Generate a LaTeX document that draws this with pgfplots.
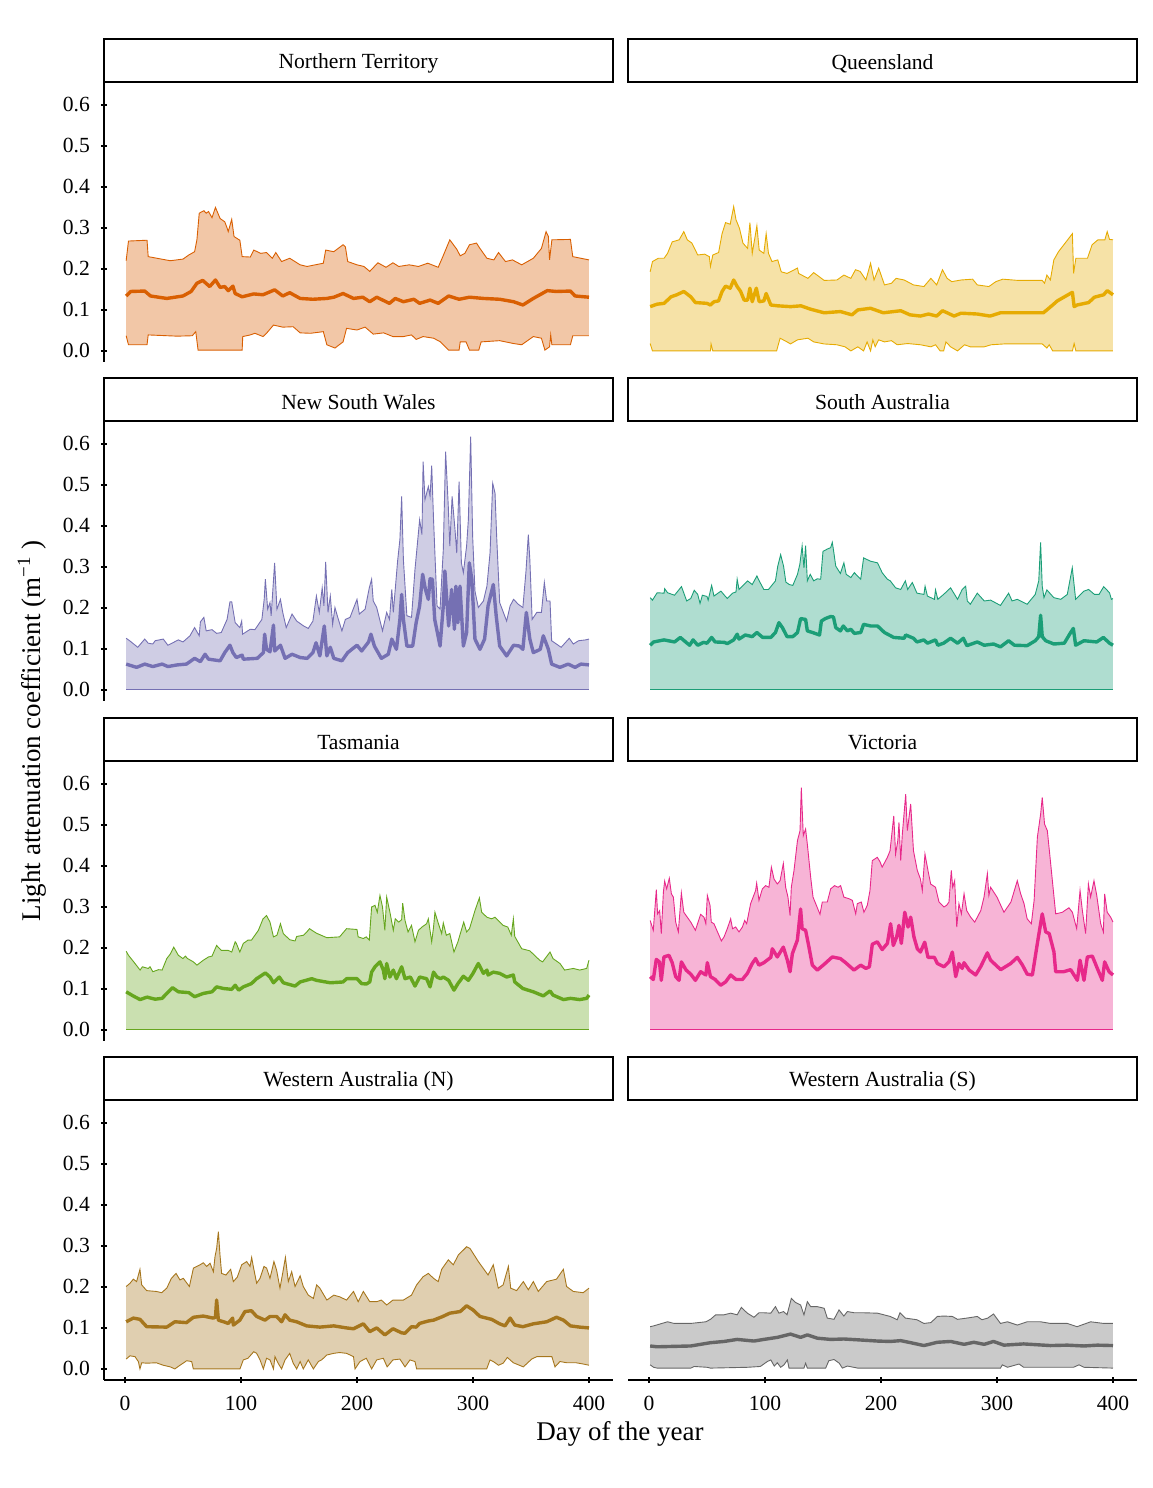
\documentclass[border=0pt]{standalone}
\usepackage{pgfplots}
\pgfplotsset{compat=1.18}
\usepgfplotslibrary{fillbetween}
\usepackage{fontspec}
\setmainfont{Liberation Serif}
\definecolor{cNT}{HTML}{D95F02}
\definecolor{cQL}{HTML}{E6AB02}
\definecolor{cNS}{HTML}{7570B3}
\definecolor{cSA}{HTML}{1B9E77}
\definecolor{cTA}{HTML}{66A61E}
\definecolor{cVI}{HTML}{E7298A}
\definecolor{cWN}{HTML}{A6761D}
\definecolor{cWS}{HTML}{666666}
\newcommand{\ribbon}[5]{%
 \addplot[name path=U#1, draw=#2, line width=0.45pt] coordinates {#3};
 \addplot[name path=L#1, draw=#2, line width=0.45pt] coordinates {#4};
 \addplot[fill=#2, fill opacity=0.35, draw=none] fill between[of=U#1 and L#1];
 \addplot[#2, line width=1.7pt, line join=round] coordinates {#5};
}
\newcommand{\strip}[1]{%
 \draw[line width=1.2pt] (rel axis cs:0,1) rectangle ([yshift=21.5pt]rel axis cs:1,1);
 \node[font=\fontsize{10.8}{13}\selectfont] at ([yshift=9.3pt]rel axis cs:0.5,1) {#1};
}
\pgfplotsset{
 panel/.style={scale only axis, width=254.5pt, height=140pt,
  xmin=-18.1, xmax=420.7, ymin=-0.027, ymax=0.656, clip=false,
  tick style={line width=1.2pt, black}, tick align=outside, major tick length=3pt,
  ytick={0,0.1,0.2,0.3,0.4,0.5,0.6}, xtick={0,100,200,300,400},
  /pgf/number format/assume math mode=true,
  ticklabel style={font=\fontsize{10.8}{13}\selectfont, text=black},
  xticklabel style={yshift=-3pt},
  yticklabel style={xshift=-2pt, /pgf/number format/fixed, /pgf/number format/fixed zerofill, /pgf/number format/precision=1}},
 lefttop/.style={panel, axis x line=none, axis y line=left, xtick=\empty,
  axis line style={-, line width=1.2pt, black}},
 righttop/.style={panel, axis x line=none, axis y line=none, xtick=\empty, ytick=\empty},
 leftbot/.style={panel, axis x line=bottom, axis y line=left,
  axis line style={-, line width=1.2pt, black}},
 rightbot/.style={panel, axis x line=bottom, axis y line=none, ytick=\empty,
  axis line style={-, line width=1.2pt, black}},
}
\begin{document}
\begin{tikzpicture}
\path (0,0) rectangle (576pt,744pt);
% Row 1 left: Northern Territory
\begin{axis}[lefttop, at={(52pt,563pt)}, anchor=south west]
\ribbon{a}{cNT}{(1,0.220) (3,0.268) (19,0.270) (20,0.230) (39,0.220) (50,0.224) (55,0.234) (60,0.242) (62,0.271) (64,0.336) (68,0.342) (70,0.336) (72,0.340) (75,0.325) (78,0.350) (82,0.323) (86,0.315) (88,0.300) (89,0.291) (92,0.321) (93,0.300) (94,0.279) (99,0.270) (101,0.230) (108,0.229) (111,0.246) (117,0.238) (122,0.240) (127,0.226) (130,0.240) (135,0.218) (142,0.226) (151,0.210) (157,0.206) (171,0.214) (173,0.246) (180,0.242) (188,0.259) (190,0.254) (192,0.218) (200,0.210) (206,0.206) (211,0.194) (218,0.215) (225,0.204) (231,0.215) (236,0.206) (245,0.210) (253,0.206) (261,0.214) (270,0.204) (274,0.230) (280,0.271) (286,0.248) (289,0.232) (293,0.238) (297,0.259) (303,0.263) (306,0.250) (312,0.226) (318,0.222) (322,0.240) (328,0.218) (334,0.222) (342,0.210) (352,0.226) (359,0.250) (363,0.291) (365,0.279) (366,0.222) (368,0.271) (384,0.272) (386,0.230) (400,0.222)}
{(1,0.037) (3,0.015) (19,0.015) (20,0.039) (45,0.036) (58,0.037) (61,0.047) (63,0.002) (101,0.002) (101.5,0.035) (108,0.039) (112,0.043) (119,0.035) (122,0.043) (128,0.063) (136,0.058) (145,0.059) (151,0.044) (160,0.043) (171,0.047) (174,0.015) (181,0.007) (188,0.022) (191,0.055) (200,0.051) (207,0.058) (214,0.041) (223,0.044) (231,0.035) (240,0.035) (247,0.039) (251,0.028) (257,0.035) (266,0.031) (272,0.022) (279,0.002) (288,0.002) (289,0.022) (294,0.022) (297,0.002) (305,0.002) (307,0.022) (323,0.025) (335,0.018) (342,0.015) (352,0.035) (359,0.031) (362,0.002) (366,0.010) (367,0.039) (368,0.015) (384,0.015) (386,0.037) (400,0.037)}
{(1,0.134) (5,0.145) (17,0.146) (22,0.134) (36,0.128) (50,0.134) (57,0.145) (62,0.165) (67,0.172) (73,0.157) (78,0.173) (82,0.155) (86,0.157) (89,0.147) (93,0.158) (95,0.140) (101,0.132) (111,0.139) (119,0.137) (129,0.149) (136,0.134) (142,0.142) (151,0.128) (162,0.126) (174,0.128) (180,0.131) (188,0.140) (197,0.128) (205,0.131) (211,0.120) (217,0.131) (228,0.116) (233,0.128) (240,0.120) (249,0.126) (254,0.116) (263,0.124) (270,0.116) (279,0.134) (288,0.126) (297,0.131) (309,0.128) (323,0.126) (335,0.120) (343,0.112) (352,0.128) (364,0.147) (372,0.145) (384,0.146) (388,0.134) (400,0.131)}
\strip{Northern Territory}
\end{axis}
% Row 1 right: Queensland
\begin{axis}[righttop, at={(314pt,563pt)}, anchor=south west]
\ribbon{b}{cQL}{(1,0.193) (3,0.218) (8,0.226) (13,0.226) (16,0.238) (20,0.266) (26,0.271) (30,0.291) (33,0.271) (37,0.263) (42,0.234) (48,0.236) (52,0.230) (53,0.206) (55,0.234) (60,0.240) (63,0.286) (66,0.313) (70,0.309) (73,0.352) (75,0.320) (78,0.299) (81,0.263) (85,0.250) (87,0.313) (89,0.238) (93,0.305) (95,0.246) (99,0.238) (101,0.286) (103,0.238) (106,0.218) (111,0.222) (114,0.193) (119,0.189) (128,0.202) (129,0.189) (137,0.177) (142,0.191) (151,0.172) (162,0.173) (168,0.185) (174,0.177) (178,0.198) (182,0.194) (187,0.173) (191,0.214) (194,0.173) (198,0.202) (203,0.161) (209,0.165) (213,0.177) (220,0.173) (228,0.161) (237,0.157) (243,0.177) (248,0.161) (253,0.198) (257,0.177) (261,0.169) (269,0.173) (279,0.175) (283,0.161) (293,0.157) (299,0.169) (305,0.175) (318,0.172) (339,0.172) (341,0.165) (343,0.185) (346,0.173) (349,0.222) (353,0.242) (365,0.286) (366,0.189) (368,0.226) (378,0.226) (382,0.259) (387,0.271) (393,0.271) (395,0.291) (397,0.272) (400,0.271)}
{(1,0.018) (3,0) (53,0) (53.5,0.017) (55,0) (110,0) (113,0.031) (119,0.022) (122,0.017) (128,0.027) (137,0.031) (142,0.022) (151,0.017) (162,0.015) (169,0.010) (174,0) (180,0.010) (185,0) (188,0.022) (191,0) (193,0.027) (195,0.010) (198,0.027) (203,0.022) (209,0.025) (214,0.015) (223,0.018) (234,0.015) (243,0.010) (247,0.015) (251,0) (254,0) (256,0.022) (260,0.010) (266,0) (272,0.015) (277,0.010) (289,0.010) (295,0.015) (306,0.017) (323,0.017) (339,0.017) (343,0.007) (345,0.015) (348,0) (365,0) (366.5,0.018) (368,0) (400,0)}
{(1,0.108) (7,0.114) (13,0.116) (19,0.132) (24,0.137) (30,0.145) (36,0.132) (40,0.118) (50,0.116) (53,0.112) (56,0.120) (60,0.122) (63,0.145) (66,0.158) (70,0.153) (73,0.173) (76,0.157) (79,0.145) (82,0.124) (85,0.124) (87,0.153) (89,0.120) (92.5,0.153) (95,0.120) (99,0.122) (101,0.140) (105,0.112) (111,0.110) (122,0.108) (131,0.110) (139,0.102) (151,0.093) (165,0.096) (175,0.088) (180,0.100) (191,0.104) (202,0.093) (217,0.098) (225,0.088) (234,0.085) (241,0.090) (248,0.085) (253,0.098) (257,0.093) (263,0.085) (269,0.092) (283,0.090) (294,0.085) (303,0.093) (318,0.093) (340,0.093) (348,0.112) (352,0.122) (365,0.143) (366.5,0.108) (369,0.112) (379,0.118) (384,0.131) (392,0.137) (395,0.147) (400,0.137)}
\strip{Queensland}
\end{axis}
% Row 2 left: New South Wales
\begin{axis}[lefttop, at={(52pt,393.5pt)}, anchor=south west]
\ribbon{c}{cNS}{(1,0.126) (4,0.120) (11,0.104) (17,0.124) (20,0.114) (24,0.112) (26,0.120) (33,0.124) (37,0.109) (46,0.122) (50,0.117) (56,0.132) (60,0.152) (64,0.132) (65,0.166) (68,0.177) (70,0.144) (75,0.147) (79,0.138) (83,0.140) (88,0.172) (90.5,0.215) (92,0.215) (95,0.164) (99,0.152) (100.6,0.168) (101.4,0.136) (108,0.148) (112,0.147) (118,0.172) (120,0.221) (121,0.270) (123,0.197) (125,0.213) (126,0.181) (129,0.310) (131,0.197) (134,0.221) (136,0.189) (139,0.152) (144,0.185) (148,0.168) (154,0.156) (158,0.150) (162,0.168) (165,0.229) (167.5,0.189) (170,0.249) (171.5,0.205) (173,0.312) (175,0.189) (177,0.229) (179,0.160) (181,0.201) (183,0.181) (187,0.144) (190,0.172) (194,0.177) (200,0.221) (202,0.185) (207,0.197) (210.6,0.249) (212.6,0.270) (214,0.217) (217,0.201) (222,0.144) (225.6,0.189) (228,0.172) (230,0.245) (231.3,0.189) (235,0.314) (237,0.367) (238.5,0.472) (240,0.318) (243,0.181) (247,0.177) (250,0.294) (254,0.415) (256,0.379) (257,0.557) (258.6,0.464) (261.5,0.496) (263,0.472) (264.4,0.547) (266,0.415) (269,0.205) (271.6,0.197) (274.4,0.342) (276.4,0.581) (278.7,0.448) (280,0.351) (282,0.472) (284.5,0.391) (286,0.334) (288,0.508) (290,0.310) (291.7,0.286) (294.5,0.351) (296,0.415) (298,0.618) (299.7,0.375) (301.7,0.241) (304.6,0.201) (309,0.217) (312,0.253) (314.7,0.334) (317,0.504) (319,0.480) (320.4,0.375) (323,0.213) (329,0.168) (332,0.205) (335,0.221) (339,0.209) (343,0.201) (345.7,0.290) (347.7,0.379) (349,0.318) (351,0.172) (355,0.189) (359,0.189) (361.5,0.262) (363.5,0.217) (366.4,0.217) (367.8,0.120) (376,0.104) (383,0.126) (386.5,0.112) (391,0.120) (397,0.122) (400,0.124)}
{(1,0) (400,0)}
{(1,0.063) (10,0.055) (17,0.063) (24,0.057) (32,0.063) (37,0.057) (45,0.061) (53,0.063) (60,0.077) (65,0.069) (69,0.087) (72,0.075) (82,0.071) (86,0.091) (90.5,0.109) (93,0.091) (96,0.079) (101,0.085) (102,0.075) (114,0.077) (119.3,0.091) (120.4,0.136) (122,0.099) (125,0.093) (128,0.158) (129,0.095) (134,0.109) (138,0.077) (144,0.087) (151,0.079) (157,0.077) (162,0.091) (164.7,0.115) (168,0.083) (171.8,0.156) (174,0.083) (177,0.104) (180,0.077) (187,0.071) (192,0.091) (200,0.109) (204,0.095) (210,0.117) (212,0.136) (215,0.107) (221,0.077) (227,0.087) (230,0.124) (234,0.099) (237,0.172) (238.5,0.233) (240,0.172) (243,0.107) (248,0.107) (251,0.164) (254,0.205) (256.6,0.282) (259,0.245) (261.5,0.221) (263,0.271) (265,0.270) (267,0.172) (271.6,0.107) (274.4,0.205) (275.8,0.290) (277,0.237) (279,0.156) (281.6,0.245) (284,0.148) (285.3,0.253) (287,0.164) (288.8,0.253) (291.7,0.107) (294.5,0.140) (296.8,0.310) (299,0.270) (301.7,0.124) (306,0.099) (310,0.124) (313,0.205) (317.5,0.257) (320,0.181) (323,0.107) (329,0.083) (335,0.109) (340,0.107) (343,0.099) (346,0.189) (349,0.124) (352,0.091) (358,0.099) (360.6,0.132) (365,0.099) (367.8,0.063) (375,0.055) (382,0.063) (388,0.055) (393,0.063) (400,0.061)}
\strip{New South Wales}
\end{axis}
% Row 2 right: South Australia
\begin{axis}[righttop, at={(314pt,393.5pt)}, anchor=south west]
\ribbon{d}{cSA}{(1,0.225) (3,0.219) (7,0.237) (13,0.236) (13.5,0.247) (16,0.237) (22,0.231) (28,0.252) (32.5,0.217) (36,0.223) (39,0.243) (42,0.233) (44,0.211) (46,0.231) (50,0.228) (51,0.219) (54,0.255) (56,0.229) (62,0.241) (65,0.231) (67.5,0.223) (72,0.236) (75,0.239) (76,0.270) (77.6,0.245) (80.5,0.253) (85,0.266) (89,0.257) (93,0.278) (95,0.266) (99,0.245) (103,0.245) (109,0.266) (111,0.302) (113.5,0.330) (116,0.302) (118,0.263) (121,0.257) (124,0.255) (128,0.282) (130,0.306) (132,0.351) (133.6,0.298) (135,0.352) (136.5,0.266) (139,0.282) (142,0.266) (145,0.271) (148,0.270) (150,0.338) (154,0.344) (156.6,0.347) (158,0.360) (159,0.342) (161,0.302) (165,0.284) (168,0.310) (170,0.282) (174,0.274) (177,0.286) (182.5,0.270) (185,0.322) (191,0.314) (197,0.310) (201,0.286) (205.5,0.270) (208,0.266) (212.6,0.249) (217,0.245) (221,0.266) (223,0.245) (227,0.262) (231,0.236) (237,0.233) (238,0.253) (240,0.229) (246,0.221) (247,0.244) (249,0.221) (254,0.233) (260,0.249) (266,0.221) (270,0.245) (273,0.253) (274.4,0.217) (277,0.209) (283,0.236) (289,0.217) (294.5,0.219) (303,0.206) (310,0.236) (313,0.217) (317.5,0.221) (326,0.209) (333,0.233) (336,0.266) (337.6,0.360) (339,0.253) (340.5,0.225) (343,0.244) (349,0.225) (355,0.221) (360.6,0.233) (364.9,0.298) (367.8,0.221) (372,0.233) (375,0.241) (379,0.245) (384,0.233) (388,0.233) (392,0.252) (397,0.237) (398.6,0.221) (400,0.223)}
{(1,0) (400,0)}
{(1,0.109) (4,0.117) (13,0.122) (22,0.117) (27,0.128) (32,0.116) (35,0.109) (38,0.122) (42,0.109) (47,0.116) (50,0.114) (54,0.128) (57,0.117) (65,0.116) (67.5,0.113) (73,0.122) (76,0.136) (77.6,0.124) (83,0.134) (89,0.130) (93,0.140) (98,0.128) (105,0.128) (109,0.140) (112,0.164) (115,0.152) (119,0.130) (124,0.130) (128,0.140) (130.7,0.174) (135,0.172) (136.5,0.144) (141,0.140) (147,0.134) (148.6,0.168) (152,0.174) (156.6,0.179) (159,0.178) (161,0.152) (165,0.144) (167.5,0.156) (171,0.144) (174,0.148) (177,0.138) (182.5,0.140) (185,0.160) (191,0.156) (197,0.156) (203,0.140) (211,0.128) (220,0.126) (221.3,0.134) (228,0.126) (231,0.117) (237,0.122) (240,0.114) (247,0.122) (249,0.109) (254,0.114) (260,0.126) (266,0.114) (271,0.126) (274,0.108) (283,0.117) (289,0.109) (297,0.112) (303,0.105) (310,0.120) (315,0.109) (326,0.108) (333,0.120) (336,0.130) (337.6,0.182) (339,0.130) (342,0.120) (349,0.112) (358,0.114) (363.5,0.140) (365.8,0.150) (367.8,0.109) (375,0.120) (386,0.117) (391.7,0.128) (397,0.114) (400,0.109)}
\strip{South Australia}
\end{axis}
% Row 3 left: Tasmania
\begin{axis}[lefttop, at={(52pt,223.5pt)}, anchor=south west]
\ribbon{e}{cTA}{(1,0.192) (3,0.182) (7,0.168) (13,0.146) (15,0.154) (20,0.150) (21.6,0.154) (24,0.142) (29,0.147) (32,0.146) (36,0.174) (39,0.185) (42,0.202) (46,0.182) (50,0.174) (52,0.180) (54,0.174) (59,0.166) (62,0.158) (67.5,0.170) (72,0.178) (75,0.180) (79,0.206) (83,0.194) (89,0.194) (92,0.190) (95,0.215) (96,0.211) (99,0.190) (102,0.211) (106,0.219) (109,0.219) (111,0.227) (115,0.243) (119,0.271) (122,0.279) (125,0.263) (128,0.227) (131,0.231) (134,0.259) (136.5,0.235) (142,0.220) (146.6,0.217) (148,0.228) (154,0.231) (158,0.243) (159,0.247) (165,0.236) (174,0.225) (185,0.227) (191,0.247) (200,0.245) (201,0.227) (205.5,0.223) (208,0.227) (210.6,0.219) (212.6,0.300) (215.5,0.304) (217.5,0.287) (219.8,0.328) (222,0.300) (224,0.243) (225.6,0.324) (228.4,0.287) (231.3,0.243) (233,0.271) (236,0.263) (238.5,0.269) (239.4,0.309) (241.4,0.267) (244,0.239) (247,0.255) (250,0.215) (253,0.243) (256,0.251) (260,0.259) (261.5,0.271) (264.4,0.215) (266,0.251) (267.2,0.287) (270,0.261) (273,0.235) (274.4,0.261) (277,0.231) (280,0.235) (283.6,0.190) (287,0.215) (292,0.263) (294.5,0.239) (297,0.247) (301.7,0.291) (305.5,0.322) (307.5,0.287) (312,0.275) (316,0.271) (319,0.275) (326,0.255) (330,0.251) (333,0.231) (334.8,0.271) (336,0.228) (342,0.198) (349,0.193) (357.5,0.170) (360,0.166) (366.4,0.190) (369,0.174) (375,0.162) (379,0.146) (386.5,0.150) (392,0.146) (398,0.150) (400,0.170)}
{(1,0) (400,0)}
{(1,0.093) (7,0.083) (13,0.074) (19,0.080) (26,0.075) (32,0.077) (36,0.089) (41,0.103) (46,0.093) (55,0.091) (60,0.081) (67.5,0.089) (75,0.093) (79,0.105) (85,0.101) (92,0.099) (95,0.109) (98,0.097) (102,0.105) (109,0.113) (113.5,0.125) (121,0.139) (125,0.129) (128,0.115) (133,0.129) (136.5,0.115) (146.6,0.107) (151,0.117) (161,0.125) (165,0.121) (177,0.115) (188,0.117) (191,0.125) (200,0.125) (204,0.113) (208,0.112) (211,0.117) (212.6,0.141) (215.5,0.154) (219.8,0.166) (222.7,0.146) (224,0.125) (225.6,0.162) (228.4,0.129) (231.3,0.146) (234,0.125) (238.5,0.154) (241.4,0.125) (246,0.129) (250,0.107) (254,0.129) (260,0.125) (263,0.105) (266,0.141) (269,0.129) (272,0.125) (274.4,0.129) (279,0.121) (283.6,0.097) (287,0.113) (291.7,0.131) (296,0.121) (300,0.138) (304.6,0.162) (309,0.138) (312,0.146) (313,0.134) (317.5,0.141) (323,0.138) (329,0.129) (334.8,0.134) (336,0.117) (343,0.101) (352,0.093) (360.6,0.083) (366.4,0.095) (369,0.085) (378,0.074) (384,0.077) (392,0.074) (398,0.077) (400,0.085)}
\strip{Tasmania}
\end{axis}
% Row 3 right: Victoria
\begin{axis}[righttop, at={(314pt,223.5pt)}, anchor=south west]
\ribbon{f}{cVI}{(1,0.267) (3.7,0.243) (6.3,0.342) (7.4,0.283) (9.2,0.291) (10.6,0.235) (12.4,0.336) (13.5,0.363) (15.2,0.344) (17.5,0.370) (19.3,0.332) (21,0.324) (23,0.263) (25.3,0.239) (27.9,0.334) (30,0.287) (33,0.275) (36,0.263) (40,0.243) (44.5,0.282) (47.4,0.275) (49,0.259) (50.3,0.328) (52.6,0.304) (53.7,0.263) (56,0.259) (60.3,0.231) (62.4,0.217) (64.7,0.227) (67.5,0.247) (70.4,0.271) (72,0.247) (74.7,0.251) (77.6,0.239) (80.5,0.251) (82.5,0.267) (84.2,0.259) (87.6,0.308) (91.9,0.340) (92.8,0.358) (94.8,0.316) (97.7,0.344) (100.6,0.352) (103.4,0.348) (105.5,0.397) (107.8,0.368) (110.6,0.356) (113,0.364) (115.8,0.406) (117.8,0.348) (119.8,0.324) (121.6,0.279) (122.7,0.348) (125,0.389) (128,0.462) (130.2,0.486) (131.3,0.591) (133,0.474) (135,0.490) (136.5,0.453) (139.4,0.372) (141.4,0.324) (143.7,0.308) (147.4,0.282) (149.4,0.312) (153.7,0.312) (156.6,0.344) (160,0.352) (163,0.348) (165.2,0.352) (168,0.324) (172.4,0.320) (175.3,0.316) (178.2,0.283) (179.6,0.308) (183,0.312) (185.3,0.287) (188.2,0.304) (190.5,0.340) (192.5,0.413) (196.8,0.421) (199,0.411) (201,0.397) (205.5,0.421) (207.8,0.437) (211,0.522) (212.6,0.429) (214.5,0.462) (215.5,0.506) (217,0.413) (218.4,0.478) (221.3,0.575) (222.7,0.486) (225.6,0.551) (228,0.437) (231.3,0.389) (234,0.368) (235.6,0.340) (237.9,0.429) (240.5,0.389) (242.8,0.356) (247,0.348) (250,0.312) (254.3,0.300) (256.6,0.304) (258.6,0.312) (260.6,0.389) (261.8,0.348) (263.5,0.364) (265.3,0.251) (267.2,0.308) (269.3,0.283) (271.6,0.332) (273.9,0.291) (277.3,0.275) (280.8,0.263) (286,0.291) (288.8,0.324) (291.7,0.381) (293,0.328) (294.5,0.348) (300,0.324) (306,0.287) (312,0.312) (317.5,0.364) (320.4,0.332) (323.3,0.308) (326,0.271) (329.6,0.259) (332,0.316) (334.8,0.470) (337.6,0.526) (339,0.567) (341,0.502) (343.4,0.486) (346.3,0.405) (350.6,0.283) (356.3,0.287) (362,0.298) (365,0.287) (368.7,0.247) (371.6,0.340) (373.6,0.291) (376.4,0.235) (378.8,0.356) (380.7,0.324) (383.6,0.364) (386,0.328) (389.4,0.259) (391.7,0.239) (392.8,0.332) (395,0.287) (398,0.275) (400,0.263)}
{(1,0) (400,0)}
{(1,0.130) (3.7,0.123) (6.3,0.172) (9,0.166) (10.6,0.121) (12.9,0.178) (17.2,0.182) (20,0.164) (23,0.130) (25.9,0.121) (27.9,0.166) (32,0.146) (36,0.136) (40,0.121) (44.5,0.142) (49,0.134) (50.3,0.164) (53,0.130) (57,0.123) (61.8,0.109) (66,0.117) (70.4,0.134) (75,0.123) (80.5,0.123) (84.8,0.138) (89,0.162) (91.9,0.174) (94.8,0.158) (99,0.164) (105,0.177) (106.3,0.198) (110.6,0.178) (115.8,0.202) (119.3,0.170) (121.6,0.142) (123.6,0.186) (127.9,0.219) (130.7,0.295) (132,0.247) (135,0.243) (137.9,0.202) (140.8,0.158) (145.1,0.146) (151,0.160) (158,0.178) (165,0.174) (169.5,0.164) (176.7,0.146) (182.5,0.158) (187,0.150) (190,0.154) (192.5,0.209) (196.8,0.215) (201,0.196) (205.5,0.211) (208.3,0.259) (210.6,0.206) (213.5,0.227) (215.5,0.255) (217.5,0.211) (220.5,0.287) (223.3,0.251) (225.6,0.275) (228.4,0.227) (231.3,0.198) (234,0.190) (237.7,0.214) (240.5,0.177) (246,0.177) (248.6,0.162) (254.3,0.154) (258.6,0.166) (261.5,0.190) (264.4,0.130) (267.2,0.162) (270,0.150) (271.6,0.164) (276,0.146) (281.6,0.134) (285.9,0.154) (291.7,0.188) (294.5,0.170) (303.2,0.147) (311.8,0.162) (317.5,0.177) (322,0.158) (326,0.136) (330.5,0.134) (334.8,0.211) (339,0.283) (342,0.239) (345,0.235) (349.1,0.190) (350.6,0.142) (357.5,0.142) (363.5,0.147) (369.3,0.121) (371.6,0.170) (375,0.121) (377.9,0.178) (382.2,0.180) (386.5,0.150) (390.8,0.121) (392.8,0.166) (396.6,0.142) (400,0.134)}
\strip{Victoria}
\end{axis}
% Row 4 left: Western Australia (N)
\begin{axis}[leftbot, at={(52pt,54pt)}, anchor=south west]
\ribbon{g}{cWN}{(1,0.201) (4.3,0.209) (7.2,0.219) (10,0.213) (12.9,0.243) (14.4,0.205) (18.7,0.191) (27,0.189) (31.6,0.186) (36,0.197) (40,0.221) (44,0.233) (47.4,0.217) (50.3,0.221) (55.5,0.201) (59,0.246) (64.7,0.254) (67.5,0.259) (70.4,0.250) (73.3,0.258) (76.2,0.237) (77.6,0.274) (79,0.294) (80.5,0.335) (81.9,0.278) (83.3,0.233) (87,0.229) (91.1,0.243) (93.4,0.213) (96.8,0.224) (100.6,0.254) (104.9,0.262) (107.8,0.250) (109.2,0.272) (110.6,0.250) (113.5,0.209) (116.4,0.221) (119.8,0.250) (122.1,0.246) (125,0.221) (128.4,0.262) (130.7,0.241) (133.6,0.197) (135.9,0.233) (138.3,0.272) (140.8,0.213) (143.7,0.237) (146.6,0.201) (151,0.227) (153.7,0.201) (158,0.180) (162.4,0.172) (165.2,0.205) (168,0.197) (174,0.168) (180,0.180) (185,0.176) (191,0.168) (197,0.189) (201,0.164) (205.5,0.189) (211,0.164) (217,0.164) (221,0.168) (225.6,0.156) (231,0.168) (240,0.168) (247,0.180) (251.4,0.205) (257,0.225) (261.5,0.233) (266,0.221) (270,0.213) (273,0.243) (278.7,0.266) (283,0.254) (287.4,0.278) (294.5,0.298) (297.4,0.294) (304.6,0.262) (313,0.229) (317.5,0.254) (321.8,0.197) (326,0.205) (330.5,0.250) (332.5,0.197) (337.6,0.191) (343.4,0.213) (347.7,0.193) (352,0.213) (356.3,0.189) (363.5,0.213) (372,0.219) (377.9,0.243) (380.7,0.201) (386.5,0.189) (395,0.186) (400,0.197)}
{(1,0.024) (4.3,0.032) (8.6,0.030) (11.5,0.018) (12.9,0) (14.4,0.015) (18.7,0.014) (27,0.015) (33,0.009) (39,0.005) (43,0) (47.4,0.009) (53.2,0.020) (57.5,0.018) (58.9,0) (99.1,0) (102,0.022) (106,0.026) (111,0.042) (113.5,0.038) (116.4,0.022) (119.3,0) (122,0.026) (125,0.022) (128,0) (129.3,0.030) (132,0.014) (135,0) (138,0.022) (142,0.038) (145,0.014) (148,0) (151,0.018) (153.7,0) (158,0.022) (162.4,0) (166.7,0.018) (169.5,0.022) (174,0.034) (180,0.038) (185,0.040) (191,0.038) (197,0.030) (198.3,0) (202.6,0.018) (208,0.026) (212.6,0) (217,0.022) (222.7,0.026) (226,0.005) (231,0.022) (237,0.024) (241.4,0.005) (245.7,0.022) (250,0.018) (251.4,0) (311.8,0) (314.7,0.022) (317.5,0.018) (322,0.009) (326,0.014) (329.6,0.028) (334.8,0.015) (343.4,0.005) (350.6,0.024) (355,0.030) (363.5,0.030) (368,0.030) (370.7,0.005) (375,0.018) (381,0.015) (389,0.015) (395,0.012) (400,0.009)}
{(1,0.115) (7.2,0.124) (12.9,0.121) (18.7,0.103) (36,0.102) (43,0.115) (53,0.113) (59,0.126) (67.5,0.129) (76,0.124) (78,0.126) (79,0.168) (80.5,0.119) (85,0.115) (89,0.111) (92.8,0.124) (93.4,0.107) (99,0.119) (103.4,0.140) (109,0.142) (113.5,0.128) (120.7,0.119) (125,0.128) (130.7,0.128) (135,0.115) (138,0.132) (142,0.119) (148,0.115) (156.6,0.105) (168,0.102) (180,0.105) (191,0.100) (197,0.098) (205.5,0.110) (211,0.091) (217,0.100) (224,0.083) (231,0.098) (238.5,0.088) (241.4,0.087) (247,0.103) (251,0.102) (254,0.111) (261.5,0.117) (266,0.119) (274,0.128) (280,0.136) (289,0.140) (294.5,0.154) (300,0.144) (306,0.128) (316,0.121) (323,0.110) (327.6,0.105) (332,0.124) (336,0.107) (343,0.103) (352,0.110) (363.5,0.115) (372,0.126) (378,0.119) (384,0.105) (392,0.102) (400,0.100)}
\strip{Western Australia (N)}
\end{axis}
% Row 4 right: Western Australia (S)
\begin{axis}[rightbot, at={(314pt,54pt)}, anchor=south west]
\ribbon{h}{cWS}{(1,0.103) (4,0.105) (16,0.115) (21.6,0.111) (36,0.111) (49,0.115) (53,0.121) (57.5,0.132) (64.7,0.132) (70.4,0.136) (76,0.132) (79.6,0.150) (84.8,0.136) (90.5,0.126) (94.8,0.137) (99,0.137) (105,0.136) (109,0.152) (112,0.136) (116,0.140) (119,0.132) (122.7,0.172) (126.4,0.162) (130.7,0.156) (133.6,0.132) (136.5,0.164) (139.4,0.152) (145,0.152) (151,0.148) (153.7,0.124) (159.5,0.121) (163.8,0.144) (168,0.129) (171,0.140) (177,0.137) (185,0.137) (197,0.136) (208,0.128) (214,0.120) (216.4,0.137) (221,0.124) (231,0.120) (237,0.111) (243,0.113) (248.6,0.128) (254,0.129) (261.5,0.128) (266,0.121) (274,0.124) (283,0.128) (287,0.120) (292,0.124) (297,0.134) (303,0.111) (309,0.115) (317.5,0.107) (326,0.115) (337.6,0.115) (346,0.111) (352,0.111) (360.6,0.111) (369,0.103) (380.7,0.115) (392,0.111) (400,0.111)}
{(1,0.010) (4,0.004) (7,0.002) (36,0.002) (39,0.006) (50,0.004) (53,0.002) (85,0.004) (96,0.006) (102,0.018) (105,0.022) (108,0.007) (110.6,0.015) (113.5,0.004) (116.4,0.010) (119.3,0.022) (120.7,0.002) (133.6,0.002) (135,0.014) (136.5,0.002) (152.3,0.002) (155,0.020) (159.5,0.023) (164,0.014) (166.7,0.002) (171,0.007) (180,0.002) (303,0.002) (304.6,0.010) (309,0.004) (319,0.012) (323,0.004) (366,0.004) (370.7,0.010) (375,0.004) (400,0.002)}
{(1,0.056) (7,0.054) (36,0.056) (53,0.064) (64.7,0.067) (76,0.072) (90.5,0.068) (99,0.072) (110.6,0.077) (122,0.085) (130.7,0.077) (136.5,0.083) (145,0.075) (156.6,0.072) (168,0.073) (180,0.071) (197,0.068) (208,0.067) (217,0.069) (225.6,0.064) (237,0.057) (248.6,0.065) (260,0.067) (271.6,0.060) (280,0.065) (289,0.060) (297,0.067) (306,0.058) (323,0.061) (346,0.057) (360.6,0.058) (375,0.056) (386.5,0.058) (400,0.057)}
\strip{Western Australia (S)}
\end{axis}
\node[rotate=90, font=\fontsize{13.5}{16}\selectfont] at (16pt,378.5pt) {Light attenuation coefficient (m\textsuperscript{−1} )};
\node[font=\fontsize{13.5}{16}\selectfont] at (310pt,27pt) {Day of the year};
\end{tikzpicture}
\end{document}
